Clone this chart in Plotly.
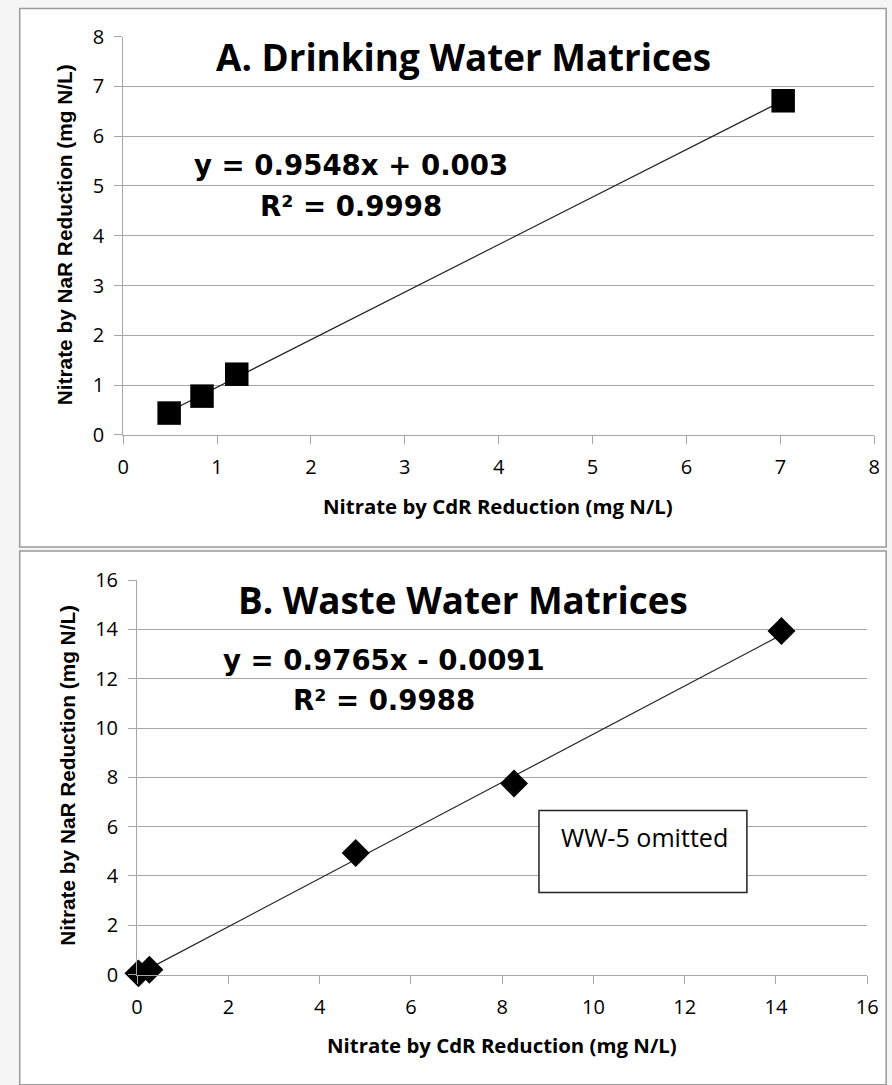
import plotly.graph_objects as go

# ---------------- data ----------------
cdr_a = [0.49, 0.84, 1.21, 7.03]
nar_a = [0.44, 0.78, 1.22, 6.71]
slope_a, intercept_a = 0.9548, 0.003
eq_a = "y = 0.9548x + 0.003"
r2_a = "R² = 0.9998"

cdr_b = [0.03, 0.27, 4.79, 8.26, 14.12]
nar_b = [0.05, 0.20, 4.93, 7.75, 13.94]
slope_b, intercept_b = 0.9765, -0.0091
eq_b = "y = 0.9765x - 0.0091"
r2_b = "R² = 0.9988"

title_a = "A. Drinking Water Matrices"
title_b = "B. Waste Water Matrices"
x_title = "Nitrate by CdR Reduction (mg N/L)"
y_title = "Nitrate by NaR Reduction (mg N/L)"
note_b = "WW-5 omitted"

W, H = 892, 1085
# observed capture mapping (output = A*layout + B); positions are inverted through it
AX, BX = 0.9815, 4.3
AY, BY = 0.974, 14.5
FS = 1.0 / 0.978


def px(x):
    comp = (x - BX) / AX
    return (x + 0.75 * (comp - x)) / W


def py(y):
    return 1 - ((y - BY) / AY) / H


def fs(s):
    return round(s * FS, 1)


fig = go.Figure()

# trendlines
for xs, sl, ic, xa, ya in [(cdr_a, slope_a, intercept_a, "x", "y"),
                           (cdr_b, slope_b, intercept_b, "x2", "y2")]:
    lx = [min(xs), max(xs)]
    ly = [sl * v + ic for v in lx]
    fig.add_trace(go.Scatter(x=lx, y=ly, mode="lines", xaxis=xa, yaxis=ya,
                             line=dict(color="#222222", width=1.2),
                             showlegend=False, hoverinfo="skip"))

fig.add_trace(go.Scatter(x=cdr_a, y=nar_a, mode="markers", xaxis="x", yaxis="y",
                         marker=dict(symbol="square", size=fs(23), color="black"),
                         cliponaxis=False, showlegend=False))
fig.add_trace(go.Scatter(x=cdr_b, y=nar_b, mode="markers", xaxis="x2", yaxis="y2",
                         marker=dict(symbol="diamond", size=fs(21), color="black"),
                         cliponaxis=False, showlegend=False))

GRID = "#a6a6a6"
TICKF = dict(family="Open Sans", size=20, color="black")

xcommon = dict(showgrid=False, zeroline=False, tickangle=0,
               showline=True, linecolor=GRID, linewidth=1, ticks="outside",
               ticklen=8, tickcolor=GRID, tickfont=TICKF, ticklabelstandoff=6)
ycommon = dict(xcommon, showgrid=True, gridcolor=GRID, gridwidth=1)

fig.update_layout(
    width=W, height=H, autosize=False,
    margin=dict(l=0, r=0, t=0, b=0),
    paper_bgcolor="#f5f5f5", plot_bgcolor="white",
    xaxis=dict(domain=[px(121), px(876)], range=[0, 8], dtick=1, anchor="y", **xcommon),
    yaxis=dict(domain=[py(435), py(37)], range=[0, 8], dtick=1, anchor="x", **ycommon),
    xaxis2=dict(domain=[px(135), px(869)], range=[0, 16], dtick=2, anchor="y2", **xcommon),
    yaxis2=dict(domain=[py(974), py(580)], range=[0, 16], dtick=2, anchor="x2", **ycommon),
)

# panel frames
fig.add_shape(type="rect", xref="paper", yref="paper", x0=px(17), x1=px(888),
              y0=py(547), y1=py(9), fillcolor="white", line=dict(color="#9a9a9a", width=1.5),
              layer="below")
fig.add_shape(type="rect", xref="paper", yref="paper", x0=px(17), x1=px(888),
              y0=py(1084), y1=py(551), fillcolor="white", line=dict(color="#9a9a9a", width=1.5),
              layer="below")

# note box
fig.add_shape(type="rect", xref="paper", yref="paper", x0=px(539), x1=px(748),
              y0=py(892), y1=py(810), fillcolor="white", line=dict(color="#222222", width=1.5))

TITLEF = dict(family="Open Sans", size=fs(36), color="black", weight=700)
EQF = dict(family="DejaVu Sans", size=fs(27), color="black", weight=700)
XTF = dict(family="Open Sans", size=fs(20), color="black", weight=700)
YTF = dict(family="Liberation Sans", size=fs(20.3), color="black", weight=700)


def ann(text, x, y, font, xanchor="center", angle=0):
    fig.add_annotation(text=text, x=px(x), y=py(y), xref="paper", yref="paper",
                       showarrow=False, font=font, xanchor=xanchor, yanchor="middle",
                       textangle=angle)


ann(title_a, 463, 57, TITLEF)
ann(eq_a, 350, 166, EQF)
ann(r2_a, 350, 207, EQF)
ann(x_title, 498, 506, XTF)
ann(y_title, 62, 235, YTF, angle=-90)

ann(title_b, 463, 600, TITLEF)
ann(eq_b, 383, 660, EQF)
ann(r2_b, 383, 700, EQF)
ann(x_title, 502, 1044, XTF)
ann(y_title, 65, 775, YTF, angle=-90)
ann(note_b, 559, 837, dict(family="Open Sans", size=fs(24.5), color="black"), xanchor="left")

fig.write_html(
    "out.html",
    config={"displayModeBar": False},
    post_script="document.documentElement.style.margin='0';"
                "document.body.style.margin='0';"
                "document.body.style.overflow='hidden';"
                "document.documentElement.style.overflow='hidden';",
)
